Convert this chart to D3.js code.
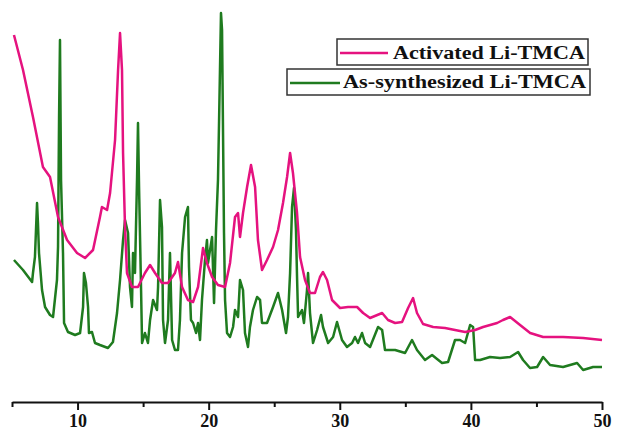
<!DOCTYPE html>
<html>
<head>
<meta charset="utf-8">
<script src="https://cdn.jsdelivr.net/npm/d3@7"></script>
<style>
  html, body { margin: 0; padding: 0; background: #fff; }
  svg { display: block; }
</style>
</head>
<body>
<svg id="chart" width="618" height="441"></svg>
<script>
// 2-theta (degrees) and intensity (a.u.)
const activatedX = [5.15,5.84,6.60,7.36,7.90,8.51,9.20,9.96,10.57,11.18,11.71,11.86,12.25,12.48,12.86,13.09,13.24,13.39,13.47,13.62,13.77,14.15,14.61,15.14,15.53,15.91,16.44,16.90,17.43,17.66,17.97,18.42,18.81,19.19,19.57,19.87,20.26,20.71,21.25,21.63,22.01,22.24,22.39,22.62,22.93,23.23,23.54,23.76,24.07,24.45,24.91,25.29,25.67,25.98,26.21,26.43,26.74,26.97,27.35,27.73,28.11,28.49,28.72,29.03,29.41,30.02,30.63,31.32,31.78,32.31,33.23,33.68,34.22,34.75,35.21,35.59,35.89,36.35,37.12,38.03,38.79,39.56,40.32,40.93,42.00,42.45,42.99,43.75,44.52,45.51,47.03,48.56,50.00];
const activatedY = [367,332,285,235,225,185,162,149,144,152,185,195,192,209,262,332,369,332,249,175,129,115,115,129,137,129,119,119,129,140,115,102,100,115,154,139,125,117,115,139,185,189,165,189,215,237,215,162,132,142,155,172,199,225,249,229,189,145,122,109,109,125,130,122,102,94,95,95,89,84,89,82,79,80,94,104,89,78,75,74,72,70,72,75,79,82,85,77,69,65,65,64,62];

const assynthX = [5.15,5.84,6.53,6.60,6.75,6.91,6.98,7.06,7.29,7.52,7.90,8.13,8.43,8.51,8.59,8.66,8.74,8.89,8.97,9.27,9.81,10.19,10.42,10.49,10.64,10.80,10.87,11.10,11.33,11.71,12.32,12.70,13.01,13.24,13.47,13.62,13.85,14.00,14.15,14.23,14.38,14.54,14.61,14.69,14.84,14.92,15.14,15.37,15.53,15.76,16.06,16.14,16.29,16.44,16.52,16.67,16.90,17.05,17.21,17.43,17.66,17.81,17.97,18.20,18.42,18.50,18.65,18.81,19.04,19.19,19.34,19.49,19.72,19.87,19.95,20.26,20.41,20.56,20.71,20.79,20.94,21.02,21.17,21.25,21.40,21.63,21.86,22.01,22.24,22.39,22.62,22.77,23.00,23.15,23.38,23.69,23.92,24.07,24.45,24.91,25.29,25.60,25.90,26.05,26.21,26.36,26.51,26.66,26.74,26.82,27.12,27.27,27.50,27.58,27.73,27.96,28.27,28.57,28.72,29.11,29.49,29.79,30.17,30.55,30.94,31.16,31.39,31.70,31.93,32.31,32.92,33.23,33.45,34.22,34.98,35.51,35.89,36.50,37.04,37.80,38.26,38.79,39.17,39.56,39.94,40.17,40.32,40.70,41.46,42.22,42.99,43.60,43.98,44.51,45.05,45.51,46.04,47.03,48.10,48.56,49.32,50.00];
const assynthY = [142,132,120,129,145,199,179,149,112,95,87,85,122,155,285,362,222,149,79,70,67,69,95,129,119,95,69,70,59,57,54,60,89,122,162,182,169,115,95,149,129,225,279,215,115,59,69,59,82,102,92,115,202,175,82,59,82,149,62,52,52,82,149,185,195,135,82,79,69,79,62,102,142,162,139,165,99,172,222,279,389,372,169,102,69,65,75,92,85,122,112,69,55,75,92,105,102,79,79,95,109,92,69,85,129,195,214,172,125,85,92,79,112,129,89,59,72,87,75,59,65,80,62,55,59,65,59,69,59,55,75,72,52,52,49,62,52,42,47,39,40,62,62,59,77,75,42,42,45,44,45,50,42,34,35,45,37,35,39,32,35,35];

const xTicks = [10, 20, 30, 40, 50];
const xMinorTicks = [5, 15, 25, 35, 45];
const seriesNames = ["Activated Li-TMCA", "As-synthesized Li-TMCA"];
const seriesColors = ["#e5127f", "#1f7b1f"];

const svg = d3.select("#chart");
const x = d3.scaleLinear().domain([5, 50]).range([12, 602]);
const y = d3.scaleLinear().domain([0, 400]).range([402, 2]);

const line = d3.line().x(d => x(d[0])).y(d => y(d[1]));

const greenData = assynthX.map((v, i) => [v, assynthY[i]]);
const pinkData = activatedX.map((v, i) => [v, activatedY[i]]);

svg.append("path").datum(greenData).attr("d", line)
  .attr("fill", "none").attr("stroke", seriesColors[1]).attr("stroke-width", 2.5).attr("stroke-linejoin", "round");
svg.append("path").datum(pinkData).attr("d", line)
  .attr("fill", "none").attr("stroke", seriesColors[0]).attr("stroke-width", 2.5).attr("stroke-linejoin", "round");

// x axis
const axis = d3.axisBottom(x).tickValues(xTicks).tickSize(8).tickSizeOuter(0).tickPadding(4)
  .tickFormat(d3.format("d"));
const gAxis = svg.append("g").attr("transform", "translate(0,402)").call(axis);
gAxis.select(".domain").attr("stroke", "#111").attr("stroke-width", 2.2);
gAxis.selectAll(".tick line").attr("stroke", "#111").attr("stroke-width", 2);
gAxis.selectAll(".tick text")
  .attr("font-family", "'Liberation Serif', 'Times New Roman', serif")
  .attr("font-weight", "bold").attr("font-size", 18).attr("fill", "#111");
const minor = d3.axisBottom(x).tickValues(xMinorTicks).tickSize(5).tickFormat("");
const gMinor = svg.append("g").attr("transform", "translate(0,402)").call(minor);
gMinor.select(".domain").remove();
gMinor.selectAll(".tick line").attr("stroke", "#111").attr("stroke-width", 2);

// legend
const fontFam = "'Liberation Serif', 'Times New Roman', serif";
const leg = svg.append("g");
// box 2 (as-synthesized)
leg.append("rect").attr("x", 287).attr("y", 69).attr("width", 303).attr("height", 26)
  .attr("fill", "#fff").attr("stroke", "#333").attr("stroke-width", 1.5);
leg.append("line").attr("x1", 290).attr("x2", 340).attr("y1", 83).attr("y2", 83)
  .attr("stroke", seriesColors[1]).attr("stroke-width", 2.5);
leg.append("text").attr("x", 343).attr("y", 88).text(seriesNames[1])
  .attr("font-family", fontFam).attr("font-weight", "bold").attr("font-size", 18)
  .attr("textLength", 243).attr("lengthAdjust", "spacingAndGlyphs").attr("fill", "#111");
// box 1 (activated)
leg.append("rect").attr("x", 337).attr("y", 39).attr("width", 251).attr("height", 26)
  .attr("fill", "#fff").attr("stroke", "#333").attr("stroke-width", 1.5);
leg.append("line").attr("x1", 340).attr("x2", 388).attr("y1", 53).attr("y2", 53)
  .attr("stroke", seriesColors[0]).attr("stroke-width", 2.5);
leg.append("text").attr("x", 393).attr("y", 59).text(seriesNames[0])
  .attr("font-family", fontFam).attr("font-weight", "bold").attr("font-size", 18)
  .attr("textLength", 192).attr("lengthAdjust", "spacingAndGlyphs").attr("fill", "#111");
</script>
</body>
</html>
